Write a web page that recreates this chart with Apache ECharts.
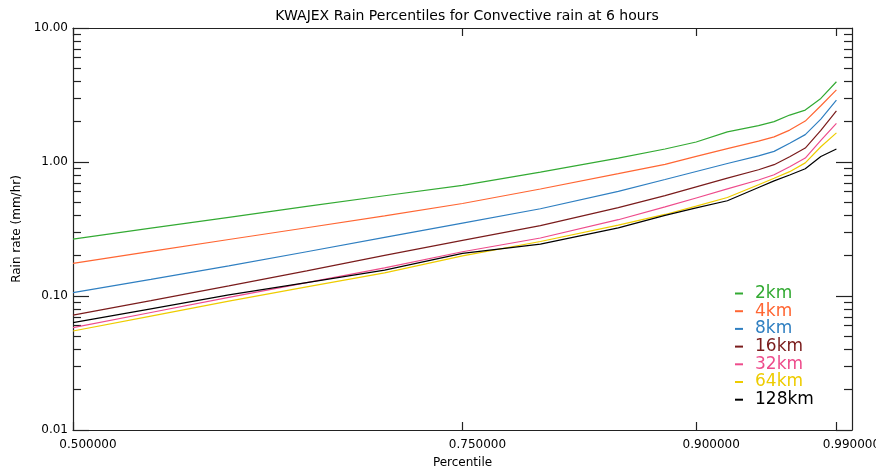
<!DOCTYPE html>
<html>
<head>
<meta charset="utf-8">
<script src="https://cdn.jsdelivr.net/npm/echarts@6/dist/echarts.min.js"></script>
<style>
  html, body { margin: 0; padding: 0; background: #fff; }
  #chart { width: 876px; height: 476px; }
</style>
</head>
<body>
<div id="chart"></div>
<script>
// percentiles
const percentiles = [0.50, 0.55, 0.60, 0.65, 0.70, 0.75, 0.80, 0.85, 0.88, 0.90, 0.92, 0.94, 0.95, 0.96, 0.97, 0.98, 0.99];

// rain rate (mm/hr) for each averaging scale
const rain2km = [0.266, 0.321, 0.386, 0.466, 0.560, 0.670, 0.841, 1.07, 1.25, 1.41, 1.68, 1.87, 2.00, 2.24, 2.44, 2.98, 3.97];
const rain4km = [0.175, 0.215, 0.264, 0.323, 0.396, 0.490, 0.629, 0.818, 0.96, 1.10, 1.26, 1.43, 1.54, 1.73, 2.02, 2.63, 3.45];
const rain8km = [0.106, 0.133, 0.168, 0.214, 0.274, 0.350, 0.448, 0.604, 0.74, 0.85, 0.975, 1.11, 1.20, 1.38, 1.60, 2.09, 2.90];
const rain16km = [0.072, 0.0925, 0.119, 0.154, 0.201, 0.260, 0.335, 0.456, 0.561, 0.652, 0.758, 0.876, 0.955, 1.095, 1.27, 1.72, 2.41];
const rain32km = [0.058, 0.0753, 0.0977, 0.126, 0.162, 0.214, 0.271, 0.371, 0.462, 0.539, 0.63, 0.734, 0.804, 0.922, 1.07, 1.45, 1.94];
const rain64km = [0.0548, 0.0708, 0.0916, 0.117, 0.149, 0.199, 0.255, 0.338, 0.406, 0.469, 0.543, 0.676, 0.756, 0.847, 0.985, 1.30, 1.65];
const rain128km = [0.0632, 0.0802, 0.102, 0.126, 0.156, 0.208, 0.244, 0.322, 0.40, 0.454, 0.514, 0.646, 0.723, 0.80, 0.89, 1.10, 1.25];

const seriesNames = ["2km", "4km", "8km", "16km", "32km", "64km", "128km"];
const seriesValues = [rain2km, rain4km, rain8km, rain16km, rain32km, rain64km, rain128km];
const seriesColors = ["#33aa33", "#ff6633", "#2f7fc1", "#7a1c1c", "#ee4c8c", "#eecc00", "#000000"];

// tick labels
const xTicks = [0.5, 0.75, 0.9, 0.99];
const yTicks = [0.01, 0.1, 1, 10];
const yMinorTicks = [];
[0.01, 0.1, 1].forEach(d => {
  for (let k = 2; k <= 9; k++) yMinorTicks.push(+(d * k).toPrecision(3));
});

const font = "DejaVu Sans";
const axisColor = "#222";

function yAxisBase(position, ticks, len, showLine, showLabel) {
  return {
    type: "log",
    logBase: 10,
    min: 0.01,
    max: 10,
    position: position,
    axisLine: { show: showLine, lineStyle: { color: axisColor, width: 1.2 } },
    axisTick: {
      show: true,
      inside: true,
      length: len,
      customValues: ticks,
      lineStyle: { color: axisColor, width: 1.2 }
    },
    axisLabel: {
      show: showLabel,
      customValues: ticks,
      formatter: v => Number(v).toFixed(2),
      color: "#000",
      fontFamily: font,
      fontSize: 12,
      margin: 5
    },
    splitLine: { show: false },
    minorTick: { show: false }
  };
}

const leftMajor = yAxisBase("left", yTicks, 16, true, true);
leftMajor.name = "Rain rate (mm/hr)";
leftMajor.nameLocation = "middle";
leftMajor.nameGap = 48;
leftMajor.nameTextStyle = { color: "#000", fontFamily: font, fontSize: 12 };

const myChart = echarts.init(document.getElementById("chart"));

myChart.setOption({
  animation: false,
  backgroundColor: "#fff",
  title: {
    text: "KWAJEX Rain Percentiles for Convective rain at 6 hours",
    left: 462,
    top: 4,
    textAlign: "center",
    textStyle: { color: "#000", fontFamily: font, fontSize: 14, fontWeight: "normal" }
  },
  grid: { left: 73, right: 24, top: 28, bottom: 46, outerBoundsMode: "none", containLabel: false },
  legend: {
    orient: "vertical",
    left: 735,
    top: 285,
    padding: 0,
    itemWidth: 8,
    itemHeight: 2,
    itemGap: 0.7,
    icon: "rect",
    textStyle: { fontFamily: font, fontSize: 17, lineHeight: 16, padding: [0, 0, 0, 7] },
    data: seriesNames.map((n, i) => ({ name: n, textStyle: { color: seriesColors[i] } }))
  },
  xAxis: [
    {
      type: "value",
      min: 0.5,
      max: 1.0,
      position: "bottom",
      name: "Percentile",
      nameLocation: "middle",
      nameGap: 27,
      nameTextStyle: { color: "#000", fontFamily: font, fontSize: 12 },
      axisLine: { show: true, lineStyle: { color: axisColor, width: 1.2 } },
      axisTick: {
        show: true,
        inside: true,
        length: 8,
        customValues: xTicks,
        lineStyle: { color: axisColor, width: 1.2 }
      },
      axisLabel: {
        customValues: xTicks,
        formatter: v => Number(v).toFixed(6),
        color: "#000",
        fontFamily: font,
        fontSize: 12,
        margin: 9,
        padding: [0, 0, 0, 30]
      },
      splitLine: { show: false }
    },
    {
      type: "value",
      min: 0.5,
      max: 1.0,
      position: "top",
      axisLine: { show: true, lineStyle: { color: axisColor, width: 1.2 } },
      axisTick: {
        show: true,
        inside: true,
        length: 8,
        customValues: xTicks,
        lineStyle: { color: axisColor, width: 1.2 }
      },
      axisLabel: { show: false },
      splitLine: { show: false }
    }
  ],
  yAxis: [
    leftMajor,
    yAxisBase("left", yMinorTicks, 8, false, false),
    yAxisBase("right", yTicks, 16, true, false),
    yAxisBase("right", yMinorTicks, 8, false, false)
  ],
  series: seriesNames.map((n, i) => ({
    name: n,
    type: "line",
    xAxisIndex: 0,
    yAxisIndex: 0,
    showSymbol: false,
    symbol: "none",
    color: seriesColors[i],
    lineStyle: { width: 1.2, color: seriesColors[i] },
    data: percentiles.map((p, j) => [p, seriesValues[i][j]])
  }))
});
</script>
</body>
</html>
